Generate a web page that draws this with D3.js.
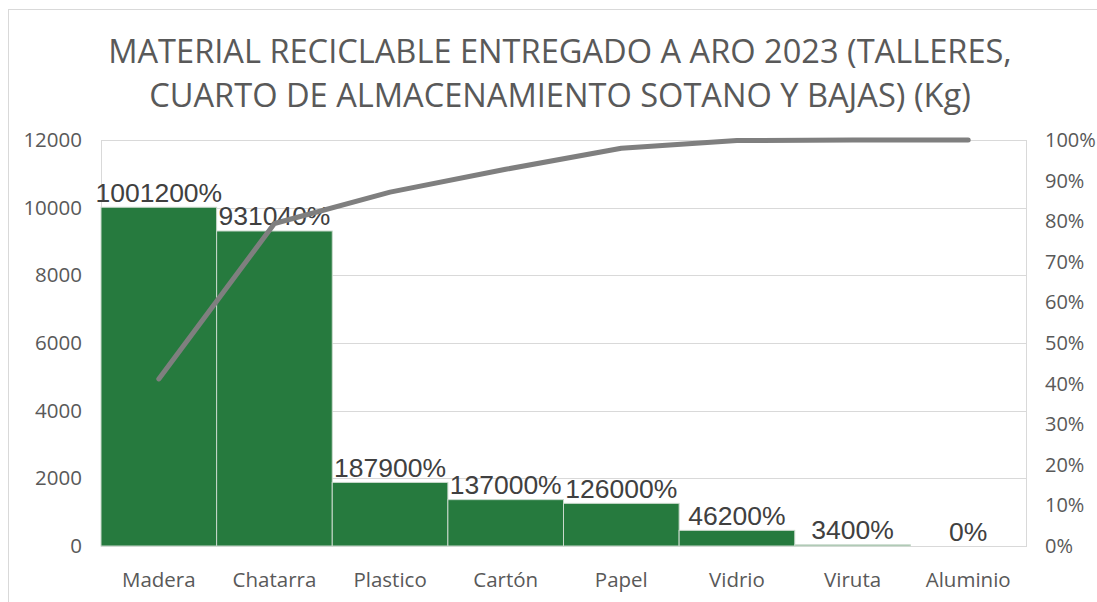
<!DOCTYPE html>
<html><head><meta charset="utf-8">
<script src="https://cdn.jsdelivr.net/npm/d3@7"></script>
<style>body{margin:0;background:#fff}svg{display:block}</style>
</head><body>
<svg id="c" width="1097" height="602"></svg>
<script>
const categories = ["Madera","Chatarra","Plastico","Cartón","Papel","Vidrio","Viruta","Aluminio"];
const values = [10012, 9310.4, 1879, 1370, 1260, 462, 34, 0];
const valueLabels = ["1001200%","931040%","187900%","137000%","126000%","46200%","3400%","0%"];
const leftTicks = [0,2000,4000,6000,8000,10000,12000];
const rightTicks = [0,0.1,0.2,0.3,0.4,0.5,0.6,0.7,0.8,0.9,1.0];
const titleLines = ["MATERIAL RECICLABLE ENTREGADO A ARO 2023 (TALLERES,","CUARTO DE ALMACENAMIENTO SOTANO Y BAJAS) (Kg)"];

const total = d3.sum(values);
let run = 0;
const cumulative = values.map(v => (run += v) / total);

const svg = d3.select("#c");
const M = {l:101, r:1026, t:140, b:546};
const x = d3.scaleBand().domain(categories).range([M.l, M.r]).padding(0);
const y = d3.scaleLinear().domain([0,12000]).range([M.b, M.t]);
const y2 = d3.scaleLinear().domain([0,1]).range([M.b, M.t]);

// outer chart border
svg.append("rect").attr("x",8.5).attr("y",9.5).attr("width",1200).attr("height",700)
  .attr("fill","#fff").attr("stroke","#d9d9d9");

// title
svg.append("g").selectAll("text").data(titleLines).join("text")
  .attr("x",560).attr("y",(d,i)=>63+i*44).attr("text-anchor","middle")
  .attr("font-family","'Open Sans', sans-serif").attr("font-size",32.6)
  .attr("fill","#595959").text(d=>d);

// gridlines
svg.append("g").selectAll("line").data(leftTicks).join("line")
  .attr("x1",M.l).attr("x2",M.r).attr("y1",d=>Math.round(y(d))+0.5).attr("y2",d=>Math.round(y(d))+0.5)
  .attr("stroke","#d9d9d9").attr("stroke-width",1);
svg.append("rect").attr("x",M.l+0.5).attr("y",M.t+0.5).attr("width",M.r-M.l).attr("height",M.b-M.t)
  .attr("fill","none").attr("stroke","#d9d9d9");

// bars
svg.append("g").selectAll("rect").data(categories).join("rect")
  .attr("x",d=>x(d)).attr("width",x.bandwidth())
  .attr("y",(d,i)=>y(values[i])).attr("height",(d,i)=>M.b-y(values[i]))
  .attr("fill","#267A3E").attr("stroke","#c9d9cc").attr("stroke-width",1);

// left axis
const la = d3.axisLeft(y).tickValues(leftTicks).tickSize(0).tickPadding(19).tickFormat(d3.format("d"));
const gl = svg.append("g").attr("transform",`translate(${M.l},0)`).call(la);
gl.select(".domain").remove();
gl.selectAll("text").attr("font-family","'Open Sans', sans-serif").attr("font-size",20.5).attr("fill","#595959");

// right axis
const ra = d3.axisRight(y2).tickValues(rightTicks).tickSize(0).tickPadding(19).tickFormat(d3.format(".0%"));
const gr = svg.append("g").attr("transform",`translate(${M.r},0)`).call(ra);
gr.select(".domain").remove();
gr.selectAll("text").attr("font-family","'Open Sans', sans-serif").attr("font-size",20).attr("fill","#595959");

// bottom axis
const ba = d3.axisBottom(x).tickSize(0).tickPadding(26);
const gb = svg.append("g").attr("transform",`translate(0,${M.b})`).call(ba);
gb.select(".domain").remove();
gb.selectAll("text").attr("font-family","'Open Sans', sans-serif").attr("font-size",20.5).attr("fill","#595959");

// data labels
svg.append("g").selectAll("text").data(categories).join("text")
  .attr("x",d=>x(d)+x.bandwidth()/2).attr("y",(d,i)=>y(values[i])-5.5)
  .attr("text-anchor","middle").attr("font-family","'Liberation Sans', Arial, sans-serif")
  .attr("font-size",26.5).attr("fill","#404040").text((d,i)=>valueLabels[i]);

// pareto line
const line = d3.line().x((d,i)=>x(categories[i])+x.bandwidth()/2).y(d=>y2(d));
svg.append("path").datum(cumulative).attr("d",line).attr("fill","none")
  .attr("stroke","#7f7f7f").attr("stroke-width",5).attr("stroke-linecap","round").attr("stroke-linejoin","round");
</script>
</body></html>
